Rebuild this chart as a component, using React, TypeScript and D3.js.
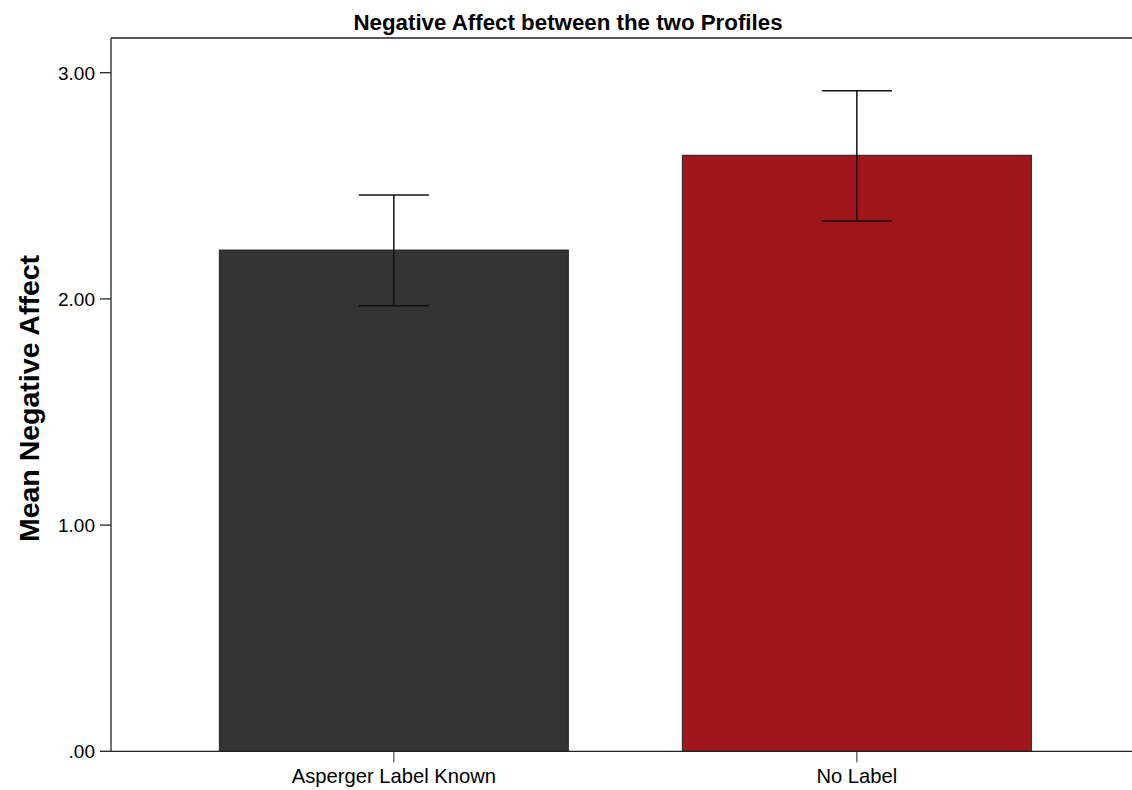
import React from "react";
import * as d3 from "d3";

const categories = ["Asperger Label Known", "No Label"];
const means = [2.216, 2.635];
const ciLow = [1.970, 2.344];
const ciHigh = [2.459, 2.920];
const barColors = ["#333333", "#a0161b"];
const yTicks = [0, 1, 2, 3];
const yTickLabels = [".00", "1.00", "2.00", "3.00"];

export default function App() {
  const W = 1132, H = 790;
  const left = 111, top = 38, bottom = 751.3;
  const y = d3.scaleLinear().domain([0, 3]).range([bottom, 72.7]);
  const x = d3.scaleBand().domain(categories).range([left, 1139.7]).paddingInner(0.2462).paddingOuter(0.234);
  const font = "'Liberation Sans', Arial, sans-serif";
  return (
    <svg width={W} height={H} style={{ position: "absolute", left: 0, top: 0, background: "#fff" }} fontFamily={font}>
      <text x={568} y={30} textAnchor="middle" fontSize={22.3} fontWeight="bold">Negative Affect between the two Profiles</text>
      {categories.map((c, i) => {
        const x0 = x(c)!;
        const cx = x0 + x.bandwidth() / 2;
        return (
          <g key={c}>
            <rect x={x0} y={y(means[i])} width={x.bandwidth()} height={y(0) - y(means[i])} fill={barColors[i]} stroke="#222" strokeWidth={1} />
            <line x1={cx} x2={cx} y1={y(ciHigh[i])} y2={y(ciLow[i])} stroke="#111" strokeWidth={1.5} />
            <line x1={cx - 35} x2={cx + 35} y1={y(ciHigh[i])} y2={y(ciHigh[i])} stroke="#111" strokeWidth={1.5} />
            <line x1={cx - 35} x2={cx + 35} y1={y(ciLow[i])} y2={y(ciLow[i])} stroke="#111" strokeWidth={1.5} />
            <line x1={cx} x2={cx} y1={bottom} y2={bottom + 11} stroke="#222" strokeWidth={1} />
            <text x={cx} y={783} textAnchor="middle" fontSize={20.2}>{c}</text>
          </g>
        );
      })}
      <line x1={left} x2={W} y1={top} y2={top} stroke="#222" strokeWidth={1.3} />
      <line x1={left} x2={left} y1={top} y2={bottom} stroke="#222" strokeWidth={1.3} />
      <line x1={left} x2={W} y1={bottom} y2={bottom} stroke="#222" strokeWidth={1.3} />
      {yTicks.map((t, i) => (
        <g key={t}>
          <line x1={left - 11} x2={left} y1={y(t)} y2={y(t)} stroke="#222" strokeWidth={1.3} />
          <text x={95} y={y(t) + 7} textAnchor="end" fontSize={19}>{yTickLabels[i]}</text>
        </g>
      ))}
      <text transform={`translate(39, 398.5) rotate(-90)`} textAnchor="middle" fontSize={28.5} fontWeight="bold">Mean Negative Affect</text>
    </svg>
  );
}
